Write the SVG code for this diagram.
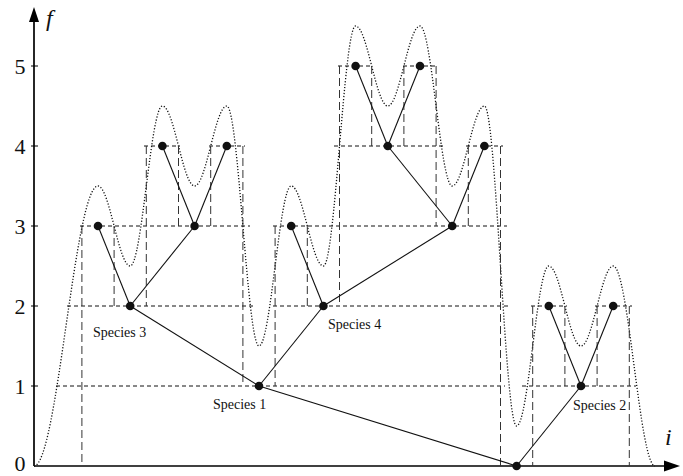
<svg xmlns="http://www.w3.org/2000/svg" width="683" height="476" viewBox="0 0 683 476">
<style>
.ax{stroke:#000;stroke-width:1.7;fill:none}
.tick{stroke:#000;stroke-width:1}
.hd{stroke:#111;stroke-width:1;stroke-dasharray:4 3;fill:none}
.vd{stroke:#333;stroke-width:1;stroke-dasharray:8 4;fill:none}
.curve{stroke:#111;stroke-width:1.3;stroke-dasharray:1.2 1.8;fill:none}
.edge{stroke:#111;stroke-width:1.1;fill:none}
.dot{fill:#111}
.num{font-family:"Liberation Serif",serif;font-size:22px;fill:#111;text-anchor:middle}
.var{font-family:"Liberation Serif",serif;font-size:24px;font-style:italic;fill:#111}
.lbl{font-family:"Liberation Serif",serif;font-size:14px;fill:#111}
</style>
<g id="axes">
<line class="ax" x1="34" y1="466" x2="34" y2="20"/>
<polygon points="34,7 29,22 39,22" fill="#000"/>
<line class="ax" x1="34" y1="466" x2="666" y2="466"/>
<polygon points="680,466 664,460.5 664,471.5" fill="#000"/>
<line class="tick" x1="31" y1="386" x2="38" y2="386"/>
<line class="tick" x1="31" y1="306" x2="38" y2="306"/>
<line class="tick" x1="31" y1="226" x2="38" y2="226"/>
<line class="tick" x1="31" y1="146" x2="38" y2="146"/>
<line class="tick" x1="31" y1="66" x2="38" y2="66"/>
<text class="num" x="20" y="471">0</text>
<text class="num" x="20" y="394">1</text>
<text class="num" x="20" y="314">2</text>
<text class="num" x="20" y="234">3</text>
<text class="num" x="20" y="154">4</text>
<text class="num" x="20" y="74">5</text>
<text class="var" x="46" y="26">f</text>
<text class="var" x="665" y="445">i</text>
</g>
<g id="landscape">
<path class="curve" d="M34,466 C57.3,466 74.7,186 98,186 C109.7,186 118.5,266 130.2,266 C141.9,266 150.7,106 162.4,106 C174.1,106 182.9,186 194.6,186 C206.3,186 215.1,106 226.8,106 C238.5,106 247.3,346 259,346 C270.7,346 279.5,186 291.2,186 C302.9,186 311.7,266 323.4,266 C335.1,266 343.9,26 355.6,26 C367.3,26 376.1,106 387.8,106 C399.5,106 408.3,26 420,26 C431.7,26 440.5,186 452.2,186 C463.9,186 472.7,106 484.4,106 C496.1,106 504.9,426 516.6,426 C528.3,426 537.1,266 548.8,266 C560.5,266 569.3,346 581,346 C592.7,346 601.5,266 613.2,266 C628.4,266 639.8,466 655,466"/>
</g>
<g id="levels">
<line class="hd" x1="338" y1="66" x2="373" y2="66"/>
<line class="hd" x1="403" y1="66" x2="437" y2="66"/>
<line class="hd" x1="144" y1="146" x2="180" y2="146"/>
<line class="hd" x1="209" y1="146" x2="245" y2="146"/>
<line class="hd" x1="334" y1="146" x2="443" y2="146"/>
<line class="hd" x1="466" y1="146" x2="503" y2="146"/>
<line class="hd" x1="80" y1="226" x2="250" y2="226"/>
<line class="hd" x1="273" y1="226" x2="507" y2="226"/>
<line class="hd" x1="67" y1="306" x2="253" y2="306"/>
<line class="hd" x1="273" y1="306" x2="508" y2="306"/>
<line class="hd" x1="531" y1="306" x2="567" y2="306"/>
<line class="hd" x1="595" y1="306" x2="632" y2="306"/>
<line class="hd" x1="56" y1="386" x2="505" y2="386"/>
<line class="hd" x1="522" y1="386" x2="636" y2="386"/>
<line class="vd" x1="81.9" y1="226" x2="81.9" y2="466"/>
<line class="vd" x1="114.1" y1="226" x2="114.1" y2="306"/>
<line class="vd" x1="146.3" y1="146" x2="146.3" y2="306"/>
<line class="vd" x1="178.5" y1="146" x2="178.5" y2="226"/>
<line class="vd" x1="210.7" y1="146" x2="210.7" y2="226"/>
<line class="vd" x1="242.9" y1="146" x2="242.9" y2="386"/>
<line class="vd" x1="275.1" y1="226" x2="275.1" y2="386"/>
<line class="vd" x1="307.3" y1="226" x2="307.3" y2="306"/>
<line class="vd" x1="339.5" y1="66" x2="339.5" y2="306"/>
<line class="vd" x1="371.7" y1="66" x2="371.7" y2="146"/>
<line class="vd" x1="403.9" y1="66" x2="403.9" y2="146"/>
<line class="vd" x1="436.1" y1="66" x2="436.1" y2="226"/>
<line class="vd" x1="468.3" y1="146" x2="468.3" y2="226"/>
<line class="vd" x1="500.5" y1="146" x2="500.5" y2="466"/>
<line class="vd" x1="532.7" y1="306" x2="532.7" y2="466"/>
<line class="vd" x1="564.9" y1="306" x2="564.9" y2="386"/>
<line class="vd" x1="597.1" y1="306" x2="597.1" y2="386"/>
<line class="vd" x1="629.3" y1="306" x2="629.3" y2="466"/>
</g>
<g id="connectors">
<line class="edge" x1="516.6" y1="466" x2="259" y2="386"/>
<line class="edge" x1="516.6" y1="466" x2="581" y2="386"/>
<line class="edge" x1="259" y1="386" x2="130.2" y2="306"/>
<line class="edge" x1="259" y1="386" x2="323.4" y2="306"/>
<line class="edge" x1="130.2" y1="306" x2="98" y2="226"/>
<line class="edge" x1="130.2" y1="306" x2="194.6" y2="226"/>
<line class="edge" x1="194.6" y1="226" x2="162.4" y2="146"/>
<line class="edge" x1="194.6" y1="226" x2="226.8" y2="146"/>
<line class="edge" x1="323.4" y1="306" x2="291.2" y2="226"/>
<line class="edge" x1="323.4" y1="306" x2="452.2" y2="226"/>
<line class="edge" x1="452.2" y1="226" x2="387.8" y2="146"/>
<line class="edge" x1="452.2" y1="226" x2="484.4" y2="146"/>
<line class="edge" x1="387.8" y1="146" x2="355.6" y2="66"/>
<line class="edge" x1="387.8" y1="146" x2="420" y2="66"/>
<line class="edge" x1="581" y1="386" x2="548.8" y2="306"/>
<line class="edge" x1="581" y1="386" x2="613.2" y2="306"/>
</g>
<g id="root"><circle class="dot" cx="516.6" cy="466" r="4.3"/></g>
<g id="species1"><circle class="dot" cx="259" cy="386" r="4.3"/><text class="lbl" x="213" y="409">Species 1</text></g>
<g id="species2"><circle class="dot" cx="581" cy="386" r="4.3"/><text class="lbl" x="573" y="410">Species 2</text></g>
<g id="species3"><circle class="dot" cx="130.2" cy="306" r="4.3"/><text class="lbl" x="93" y="337">Species 3</text></g>
<g id="species4"><circle class="dot" cx="323.4" cy="306" r="4.3"/><text class="lbl" x="328" y="329">Species 4</text></g>
<g id="n98"><circle class="dot" cx="98" cy="226" r="4.3"/></g>
<g id="n195"><circle class="dot" cx="194.6" cy="226" r="4.3"/></g>
<g id="n162"><circle class="dot" cx="162.4" cy="146" r="4.3"/></g>
<g id="n227"><circle class="dot" cx="226.8" cy="146" r="4.3"/></g>
<g id="n291"><circle class="dot" cx="291.2" cy="226" r="4.3"/></g>
<g id="n452"><circle class="dot" cx="452.2" cy="226" r="4.3"/></g>
<g id="n388"><circle class="dot" cx="387.8" cy="146" r="4.3"/></g>
<g id="n484"><circle class="dot" cx="484.4" cy="146" r="4.3"/></g>
<g id="n356"><circle class="dot" cx="355.6" cy="66" r="4.3"/></g>
<g id="n420"><circle class="dot" cx="420" cy="66" r="4.3"/></g>
<g id="n549"><circle class="dot" cx="548.8" cy="306" r="4.3"/></g>
<g id="n613"><circle class="dot" cx="613.2" cy="306" r="4.3"/></g>
</svg>
